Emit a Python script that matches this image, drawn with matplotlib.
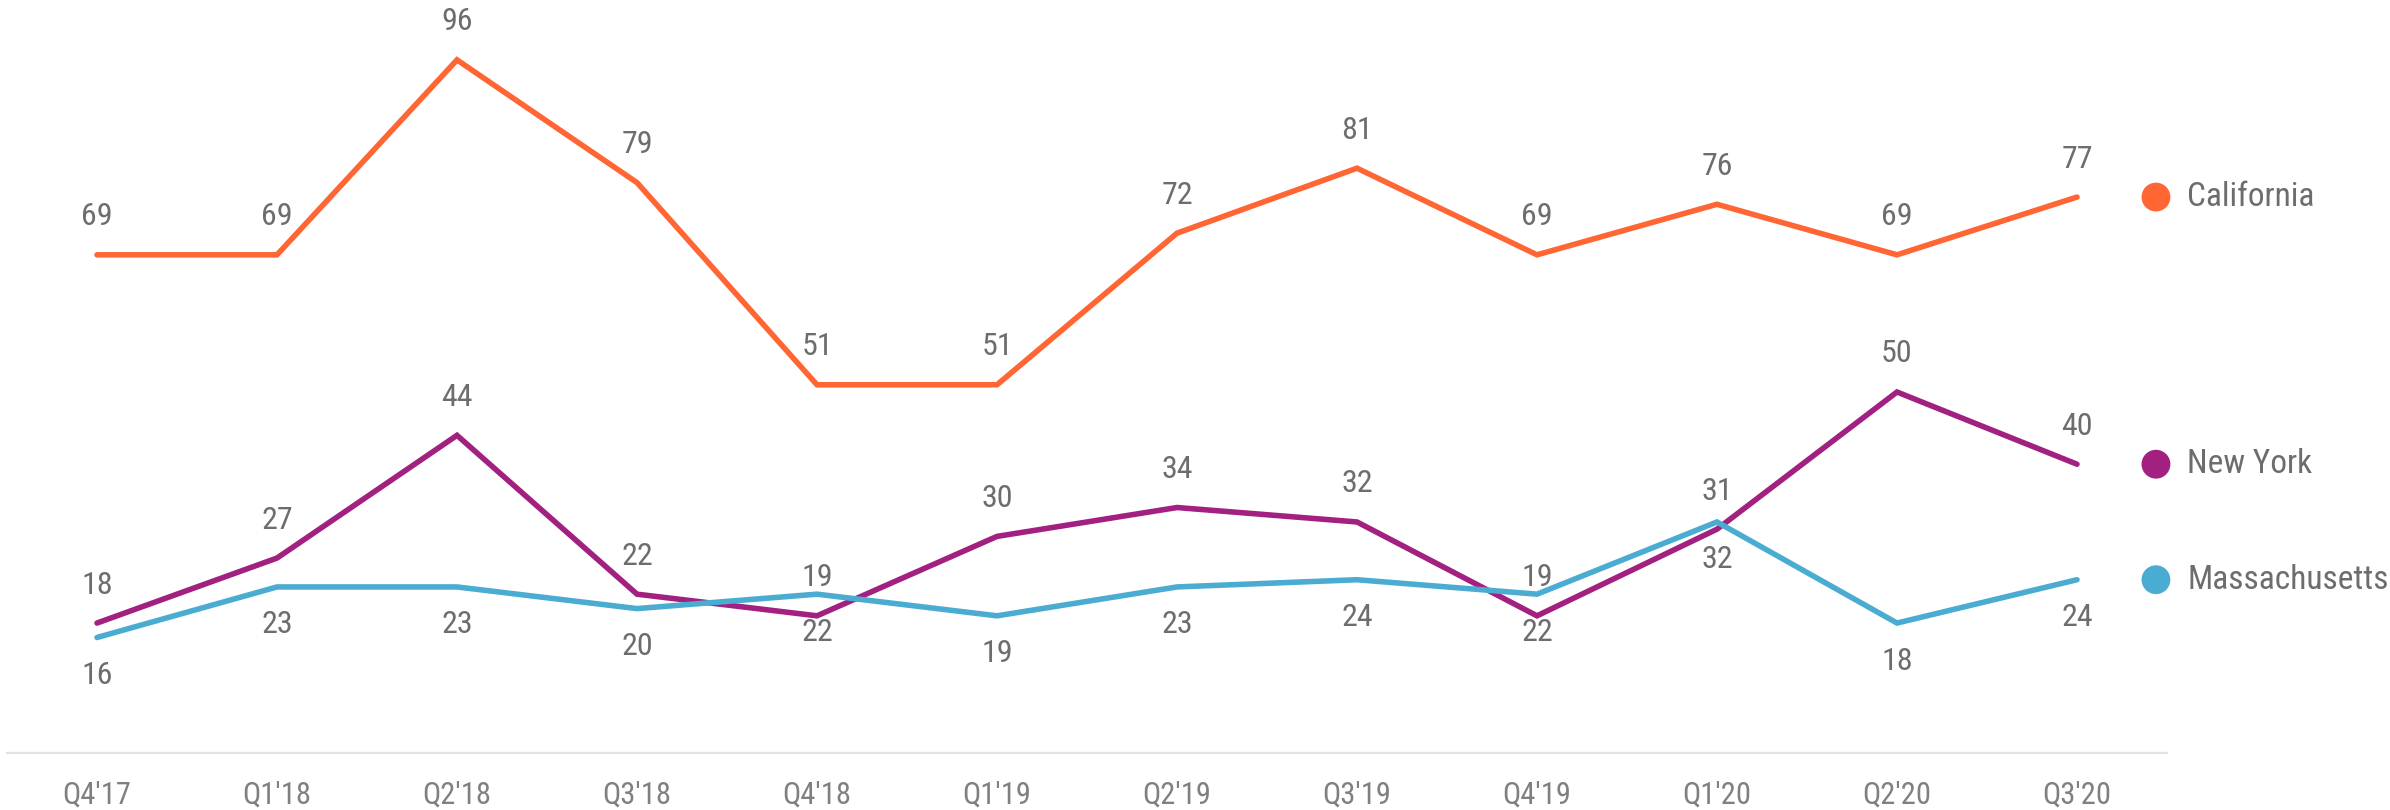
import matplotlib
matplotlib.use("Agg")
import matplotlib.pyplot as plt
from matplotlib import font_manager

quarters = ["Q4'17", "Q1'18", "Q2'18", "Q3'18", "Q4'18", "Q1'19",
            "Q2'19", "Q3'19", "Q4'19", "Q1'20", "Q2'20", "Q3'20"]
california = [69, 69, 96, 79, 51, 51, 72, 81, 69, 76, 69, 77]
new_york = [18, 27, 44, 22, 19, 30, 34, 32, 19, 31, 50, 40]
massachusetts = [16, 23, 23, 20, 22, 19, 23, 24, 22, 32, 18, 24]

# pick a narrow font if there is one
names = {f.name for f in font_manager.fontManager.ttflist}
font = "Roboto"
for f in ["Roboto Condensed", "Liberation Sans Narrow", "Roboto"]:
    if f in names:
        font = f
        break
plt.rcParams["font.family"] = [font, "DejaVu Sans"]

series = [
    ("California", california, "#ff6633", 1),
    ("New York", new_york, "#a2207f", 1),
    ("Massachusetts", massachusetts, "#4bacd1", -1),
]

fig = plt.figure(figsize=(23.9, 8.1), dpi=100)
ax = fig.add_axes([7 / 2390, 57 / 810, 2160 / 2390, 751 / 810])

x = list(range(len(quarters)))
for name, vals, col, side in series:
    ax.plot(x, vals, color=col, lw=4, solid_capstyle="round",
            solid_joinstyle="miter", zorder=3)
    for xi, v in zip(x, vals):
        ax.annotate(str(v), (xi, v), xytext=(0, 38 * side),
                    textcoords="offset pixels", ha="center", va="center",
                    fontsize=23, color="#6d6d6d")
    # legend dot + name next to the last point
    ax.scatter([x[-1] + 79 / 180.1], [vals[-1]], s=28 ** 2 * 0.55, color=col,
               clip_on=False, zorder=4, edgecolors="none")
    ax.annotate(name, (x[-1], vals[-1]), xytext=(110, 0),
                textcoords="offset pixels", ha="left", va="center",
                fontsize=24, color="#6d6d6d", annotation_clip=False)

ax.set_xlim(-0.5, 11.5)
ax.set_ylim(0, 751 / 7.22)
ax.set_xticks(x)
ax.set_xticklabels(quarters)
ax.tick_params(axis="x", length=0, pad=20, labelsize=22, labelcolor="#808080")
ax.set_yticks([])
for s in ["top", "right", "left"]:
    ax.spines[s].set_visible(False)
ax.spines["bottom"].set_color("#e3e3e3")
ax.spines["bottom"].set_linewidth(1.6)

fig.savefig("out.png", dpi=100)
